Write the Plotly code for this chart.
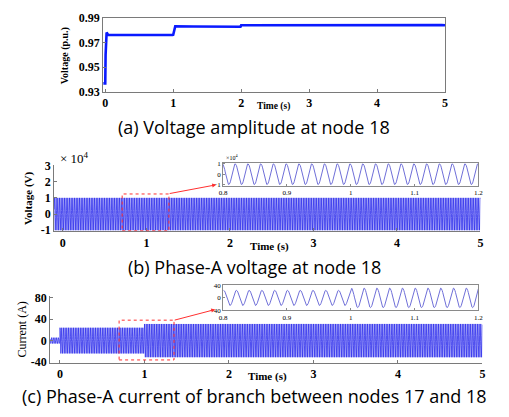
import numpy as np
import plotly.graph_objects as go

W, H = 509, 417

# ---------------- data ----------------
# (a) voltage amplitude at node 18 (p.u.)
t_a = [-0.03, 0.0, 0.005, 0.02, 0.04, 0.3, 0.6, 0.99, 1.0, 1.03, 1.3, 1.6, 1.99, 2.0, 2.4, 2.8, 3.2, 3.6, 4.0, 4.4, 4.8, 4.95, 5.0]
v_a = [0.937, 0.937, 0.960, 0.978, 0.9762, 0.9760, 0.9761, 0.9760, 0.9762, 0.9830, 0.9829, 0.9830, 0.9827, 0.9838, 0.9839, 0.9838, 0.9840, 0.9840, 0.9842, 0.9843, 0.9842, 0.9841, 0.9838]

# (b) phase-A voltage at node 18: amplitude segments (V)
freq_hz = 50.0
seg_b_t = [-0.105, 5.0]
seg_b_amp = [1.0e4]

# (c) phase-A current 17-18: amplitude segments (A)
seg_c_t = [-0.116, 0.0, 1.0, 5.0]
seg_c_amp = [5.5, 24.0, 31.0]

xticks_main = [0, 1, 2, 3, 4, 5]
yticks_a = [0.93, 0.95, 0.97, 0.99]
yticks_b = [-1, 0, 1, 2, 3]
yticks_c = [-40, 0, 40, 80]
xticks_inset = [0.8, 0.9, 1.0, 1.1, 1.2]
xticklabels_inset = ["0.8", "0.9", "1", "1.1", "1.2"]


def wave(seg_t, seg_amp, phase, n_per_cycle=24):
    t0, t1 = seg_t[0], seg_t[-1]
    n = int((t1 - t0) * freq_hz * n_per_cycle) + 1
    t = np.linspace(t0, t1, n)
    amp = np.zeros_like(t)
    for i, a in enumerate(seg_amp):
        m = (t >= seg_t[i]) & (t <= seg_t[i + 1])
        amp[m] = a
    return t, amp * np.cos(2 * np.pi * freq_hz * t + phase)


tb, vb = wave(seg_b_t, seg_b_amp, 0.3)
tc, ic = wave(seg_c_t, seg_c_amp, -0.3)


def px_x(p):
    return p / W


def px_y(p):
    return 1 - p / H


serif = "Liberation Serif"
sans = "Open Sans"
blue_band = "#3030ec"
blue_inset = "#6f6fd8"

fig = go.Figure()

# (a)
fig.add_trace(go.Scatter(x=t_a, y=v_a, mode="lines", line=dict(color="#0a1aff", width=2.6),
                         xaxis="x", yaxis="y", showlegend=False))
# (b) main
fig.add_trace(go.Scatter(x=tb, y=vb / 1e4, mode="lines", line=dict(color=blue_band, width=0.8),
                         xaxis="x2", yaxis="y2", showlegend=False))
# (b) inset
mb = (tb >= 0.8) & (tb <= 1.2)
fig.add_trace(go.Scatter(x=tb[mb], y=vb[mb] / 1e4, mode="lines", line=dict(color=blue_inset, width=1),
                         xaxis="x3", yaxis="y3", showlegend=False))
# (c) main
fig.add_trace(go.Scatter(x=tc, y=ic, mode="lines", line=dict(color=blue_band, width=0.8),
                         xaxis="x4", yaxis="y4", showlegend=False))
# (c) inset
mc = (tc >= 0.8) & (tc <= 1.2)
fig.add_trace(go.Scatter(x=tc[mc], y=ic[mc], mode="lines", line=dict(color=blue_inset, width=1),
                         xaxis="x5", yaxis="y5", showlegend=False))

tickfont_b = dict(family=serif, size=12, color="black")
axis_common = dict(showgrid=False, zeroline=False, showline=True, linecolor="#7a7a7a", linewidth=1,
                   ticks="inside", ticklen=3, tickcolor="#7a7a7a")
inset_common = dict(showgrid=False, zeroline=False, showline=True, linecolor="#8a8a8a", linewidth=1,
                    ticks="inside", ticklen=2, tickcolor="#8a8a8a", mirror=True,
                    tickfont=dict(family=serif, size=7, color="black"))

fig.update_layout(
    width=W, height=H, margin=dict(l=0, r=0, t=0, b=0),
    paper_bgcolor="white", plot_bgcolor="white",
    font=dict(family=serif, color="black"),
    xaxis=dict(domain=[px_x(101), px_x(449)], range=[-0.03, 5], tickvals=xticks_main,
               tickfont=tickfont_b, mirror=True, anchor="y", **axis_common),
    yaxis=dict(domain=[px_y(88), px_y(11)], range=[0.93, 0.99], tickvals=yticks_a,
               ticktext=["<b>%.2f</b>" % v for v in yticks_a], tickfont=tickfont_b, mirror=True,
               anchor="x", **axis_common),
    xaxis2=dict(domain=[px_x(51), px_x(485)], range=[-0.105, 5], tickvals=xticks_main,
                tickfont=tickfont_b, anchor="y2", **axis_common),
    yaxis2=dict(domain=[px_y(232), px_y(164)], range=[-1.06, 3], tickvals=yticks_b,
                ticktext=["<b>%d</b>" % v for v in yticks_b], tickfont=tickfont_b, anchor="x2",
                **axis_common),
    xaxis3=dict(domain=[px_x(223), px_x(483)], range=[0.8, 1.2], tickvals=xticks_inset,
                ticktext=xticklabels_inset, anchor="y3", **inset_common),
    yaxis3=dict(domain=[px_y(185), px_y(161)], range=[-1.12, 1.12], tickvals=[-1, 0, 1],
                anchor="x3", **inset_common),
    xaxis4=dict(domain=[px_x(47), px_x(487)], range=[-0.116, 5], tickvals=xticks_main,
                tickfont=tickfont_b, anchor="y4", **axis_common),
    yaxis4=dict(domain=[px_y(368), px_y(299)], range=[-41, 83], tickvals=yticks_c,
                ticktext=["<b>%d</b>" % v for v in yticks_c], tickfont=tickfont_b, anchor="x4",
                **axis_common),
    xaxis5=dict(domain=[px_x(223), px_x(483)], range=[0.8, 1.2], tickvals=xticks_inset,
                ticktext=xticklabels_inset, anchor="y5", **inset_common),
    yaxis5=dict(domain=[px_y(314), px_y(288)], range=[-40, 40], tickvals=[-40, 0, 40],
                anchor="x5", **inset_common),
)

# bold x tick labels for main axes
for ax in ["xaxis", "xaxis2", "xaxis4"]:
    fig.layout[ax].ticktext = ["<b>%d</b>" % v for v in xticks_main]

# zoom rectangles
fig.add_shape(type="rect", xref="x2", yref="y2", x0=0.71, x1=1.27, y0=-1.04, y1=1.24,
              line=dict(color="#ff3030", width=1, dash="dot"))
fig.add_shape(type="rect", xref="x4", yref="y4", x0=0.70, x1=1.35, y0=-36, y1=38,
              line=dict(color="#ff3030", width=1, dash="dot"))

annots = []
# arrows (tail offset in pixels from head)
annots.append(dict(x=px_x(216), y=px_y(184), xref="paper", yref="paper", ax=168 - 216, ay=193 - 184,
                   axref="pixel", ayref="pixel", showarrow=True, arrowhead=2, arrowsize=0.8,
                   arrowwidth=1, arrowcolor="#ff3030", text=""))
annots.append(dict(x=px_x(215), y=px_y(313), xref="paper", yref="paper", ax=173 - 215, ay=324 - 313,
                   axref="pixel", ayref="pixel", showarrow=True, arrowhead=2, arrowsize=0.8,
                   arrowwidth=1, arrowcolor="#ff3030", text=""))


def txt(x, y, s, size, family=serif, angle=0, xanchor="center", yanchor="middle"):
    annots.append(dict(x=px_x(x), y=px_y(y), xref="paper", yref="paper", text=s, showarrow=False,
                       font=dict(family=family, size=size, color="black"), textangle=angle,
                       xanchor=xanchor, yanchor=yanchor))


# axis titles
txt(62, 50, "<b>Voltage (p.u.)</b>", 10, angle=-90)
txt(274, 103, "<b>Time (s)</b>", 9.5)
txt(25, 198, "<b>Voltage (V)</b>", 11, angle=-90)
txt(270, 248, "<b>Time (s)</b>", 11)
txt(18, 334, "Current (A)", 12, angle=-90)
txt(268, 382, "<b>Time (s)</b>", 11)
# multipliers
txt(55, 156, "× 10<sup>4</sup>", 13, xanchor="left")
txt(224, 155, "×10<sup>4</sup>", 6, xanchor="left")
# captions
txt(255, 124, "(a) Voltage amplitude at node 18", 18, family=sans)
txt(255, 269, "(b) Phase-A voltage at node 18", 18, family=sans)
txt(255, 403, "(c) Phase-A current of branch between nodes 17 and 18", 18, family=sans)

fig.update_layout(annotations=annots)
fig.write_html("out.html", config={"displayModeBar": False},
               post_script="document.body.style.margin='0';document.body.style.overflow='hidden';")
